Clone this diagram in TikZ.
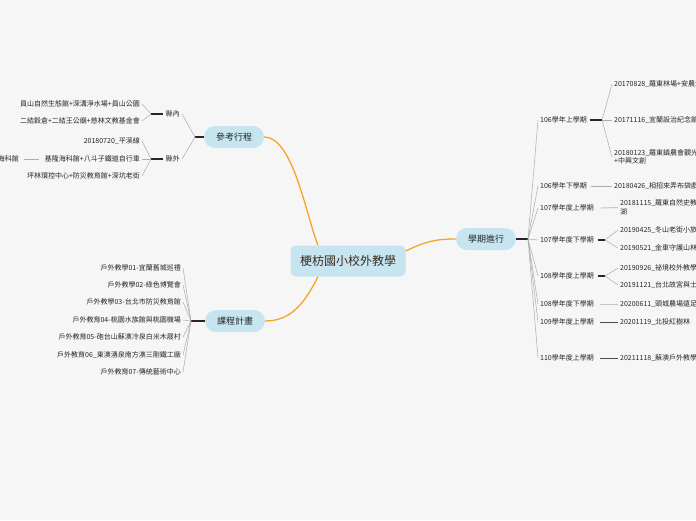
\documentclass[tikz,border=0pt]{standalone}
\usepackage{fontspec}
\setmainfont{Noto Sans CJK TC}
\usetikzlibrary{positioning}
\definecolor{bgpaper}{HTML}{F6F6F6}
\definecolor{pillblue}{HTML}{C6E5F1}
\definecolor{branchorange}{HTML}{F8A329}
\definecolor{rootink}{HTML}{3B2B1E}

\begin{document}
\begin{tikzpicture}[x=1pt, y=-1pt, font=\fontsize{7}{8.5}\selectfont,
  rootbox/.style={fill=pillblue, rounded corners=5pt, minimum width=115pt, minimum height=31pt,
    font=\fontsize{12}{14}\selectfont, text=rootink},
  pill/.style={fill=pillblue, rounded corners=11pt, minimum width=60pt, minimum height=22pt,
    font=\fontsize{9}{10}\selectfont, text=black!85},
  leafl/.style={anchor=east, inner sep=2pt, text=black!85, align=right},
  leafr/.style={anchor=west, inner sep=2pt, text=black!85, align=left},
  curve/.style={draw=branchorange, line width=1.3pt},
  fan/.style={draw=gray!65, line width=0.5pt},
  stub/.style={draw=black!85, line width=1.1pt}]
\useasboundingbox[fill=bgpaper] (0,0) rectangle (696,520);

\node[rootbox] (root) at (348,261) {梗枋國小校外教學};
\node[pill] (ref) at (234,137) {參考行程};
\node[pill] (plan) at (235,321) {課程計畫};
\node[pill] (prog) at (486,239) {學期進行};
\coordinate (rootn) at ([xshift=-30pt]root.north);
\coordinate (roots) at ([xshift=-30pt]root.south);
\coordinate (roote) at ([yshift=10pt]root.east);
\draw[curve] (ref.east) .. controls (293,137) and (306,215) .. (rootn);
\draw[curve] (plan.east) .. controls (293,321) and (306,300) .. (roots);
\draw[curve] (roote) .. controls (428,240) and (440,239) .. (prog.west);

% reference trips
\coordinate (refj) at (195,137);
\draw[stub] (ref.west) -- (refj);
\node[leafl] (inner) at (182,114) {縣內};
\node[leafl] (outer) at (182,159) {縣外};
\draw[fan] (refj) -- (inner.east);
\draw[fan] (refj) -- (outer.east);
\coordinate (innerj) at (151,114);
\coordinate (outerj) at (151,159);
\draw[stub] ([xshift=-1pt]inner.west) -- (innerj);
\draw[stub] ([xshift=-1pt]outer.west) -- (outerj);
\node[leafl] (in1) at (142,104) {員山自然生態館+深溝淨水場+員山公園};
\node[leafl] (in2) at (142,121) {二結穀倉+二結王公廟+慈林文教基金會};
\draw[fan] (innerj) -- (in1.east);
\draw[fan] (innerj) -- (in2.east);
\node[leafl] (out1) at (142,141) {20180720\_平溪線};
\node[leafl] (out2) at (142,159) {基隆海科館+八斗子鐵道自行車};
\node[leafl] (out3) at (142,176) {坪林環控中心+防災教育館+深坑老街};
\foreach \k in {1,2,3}{
  \draw[fan] (outerj) -- (out\k.east);
}
\node[leafl] (sea) at (21,159) {海科館};
\draw[fan, shorten <=4pt, shorten >=3pt] (out2.west) -- (sea.east);

% course plan
\coordinate (planj) at (191,321);
\draw[stub] (plan.west) -- (planj);
\foreach \i/\y/\txt in {
    1/268/{戶外教學01-宜蘭舊城巡禮},
    2/285/{戶外教學02-綠色博覽會},
    3/302/{戶外教學03-台北市防災教育館},
    4/320/{戶外教育04-桃園水族館與桃園機場},
    5/337/{戶外教育05-砲台山蘇澳冷泉白米木屐村},
    6/355/{戶外教育06\_東澳湧泉南方澳三剛鐵工廠},
    7/372/{戶外教育07-傳統藝術中心}}{
  \node[leafl] (c\i) at (183,\y) {\txt};
  \draw[fan] (planj) -- (c\i.east);
}

% semesters
\coordinate (progj) at (528,239);
\draw[stub] (prog.east) -- (progj);
\foreach \i/\y/\txt in {
    1/120/106學年上學期,
    2/186/106學年下學期,
    3/208/107學年度上學期,
    4/240/107學年度下學期,
    5/276/108學年度上學期,
    6/304/108學年度下學期,
    7/322/109學年度上學期,
    8/358/110學年度上學期}{
  \node[leafr] (s\i) at (538,\y) {\txt};
  \draw[fan] (progj) -- (s\i.west);
}

\coordinate (s1j) at (602,120);
\draw[stub] ([xshift=1pt]s1.east) -- (s1j);
\node[leafr] (t11) at (612,84) {20170828\_羅東林場+安農溪};
\node[leafr] (t12) at (612,120) {20171116\_宜蘭設治紀念館};
\node[leafr] (t13) at (612,157) {20180123\_羅東鎮農會觀光工廠\\+中興文創};
\foreach \k in {1,2,3}{
  \draw[fan] (s1j) -- (t1\k.west);
}

\node[leafr] (t2) at (612,186) {20180426\_相招來弄布袋戲};
\draw[fan] ([xshift=2pt]s2.east) -- (t2.west);
\node[leafr] (t3) at (618,207.5) {20181115\_羅東自然史教育館+梅花\\湖};
\draw[draw=gray!45, line width=1pt] ([xshift=5pt]s3.east) -- (t3.west);

\coordinate (s4j) at (605,240);
\draw[stub] ([xshift=2pt]s4.east) -- (s4j);
\node[leafr] (t41) at (618,230) {20190425\_冬山老街小旅行};
\node[leafr] (t42) at (618,248) {20190521\_金車守護山林};
\draw[fan] (s4j) -- (t41.west);
\draw[fan] (s4j) -- (t42.west);

\coordinate (s5j) at (605,276);
\draw[stub] ([xshift=2pt]s5.east) -- (s5j);
\node[leafr] (t51) at (618,268) {20190926\_祕境校外教學};
\node[leafr] (t52) at (618,285) {20191121\_台北故宮與士林};
\draw[fan] (s5j) -- (t51.west);
\draw[fan] (s5j) -- (t52.west);

\node[leafr] (t6) at (618,304) {20200611\_頭城農場遠足};
\draw[draw=gray!45, line width=1pt] ([xshift=4pt]s6.east) -- (t6.west);
\node[leafr] (t7) at (618,322) {20201119\_北投紅樹林};
\draw[fan, draw=black!70] ([xshift=4pt]s7.east) -- (t7.west);
\node[leafr] (t8) at (618,358) {20211118\_蘇澳戶外教學};
\draw[fan, draw=black!70] ([xshift=4pt]s8.east) -- (t8.west);
\end{tikzpicture}
\end{document}
